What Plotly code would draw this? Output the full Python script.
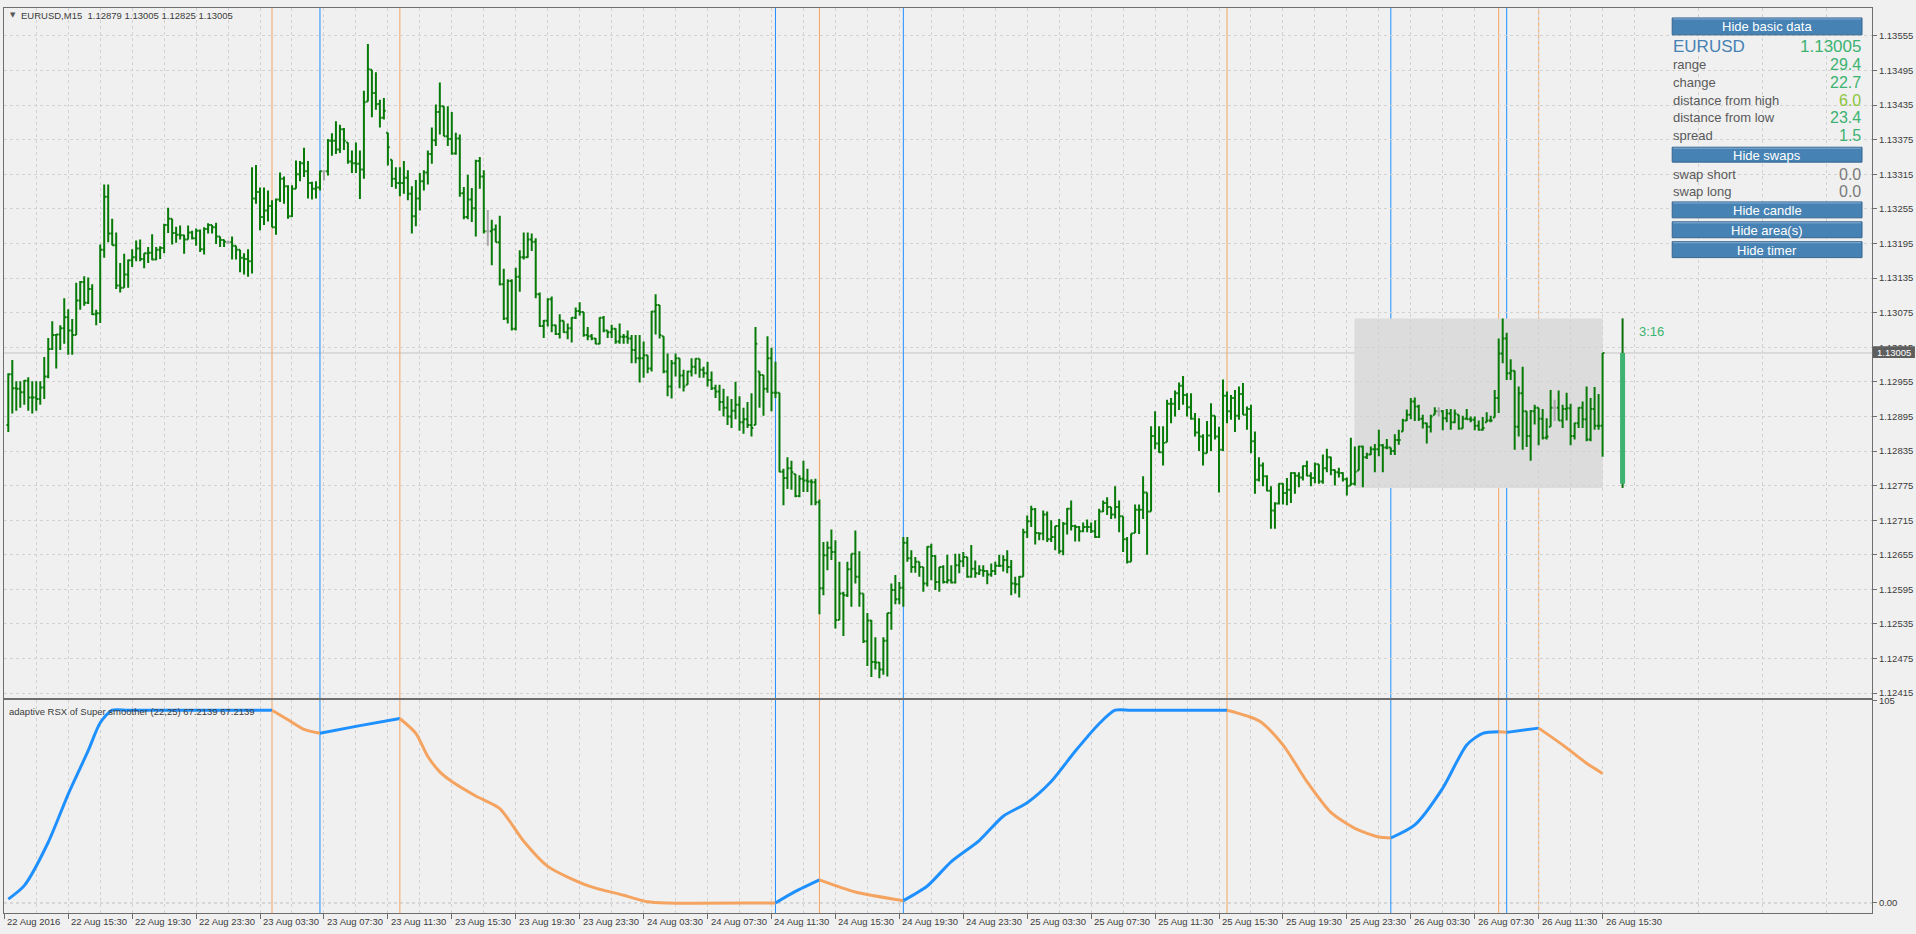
import plotly.graph_objects as go

# ---------------------------------------------------------------- data
title_text = "EURUSD,M15  1.12879 1.13005 1.12825 1.13005"
indicator_title = "adaptive RSX of Super smoother (22,25) 67.2139 67.2139"
BASE = 1.12  # prices below are pips above 1.12000

high_pips = [
    97.0, 99.3, 95.6, 95.6, 95.8, 96.3, 95.6, 95.6, 95.6, 99.8,
    103.1, 106.0, 103.8, 105.3, 110.0, 108.1, 106.4, 112.7, 113.0, 113.8,
    113.6, 112.4, 108.0, 119.3, 129.7, 129.7, 123.8, 121.4, 116.1, 117.7,
    116.7, 118.5, 120.0, 120.2, 117.8, 118.9, 121.1, 118.9, 119.0, 122.9,
    125.7, 123.8, 122.4, 122.6, 121.0, 122.6, 121.7, 122.1, 121.9, 122.3,
    123.0, 122.7, 123.1, 120.7, 120.2, 120.0, 120.7, 119.1, 118.4, 117.8,
    118.5, 132.7, 133.1, 129.2, 129.2, 128.7, 127.0, 127.3, 131.8, 131.1,
    129.6, 129.6, 133.9, 133.8, 136.1, 133.8, 130.2, 130.3, 132.1, 132.1,
    137.6, 138.6, 140.7, 140.1, 139.5, 137.0, 135.6, 137.0, 135.6, 146.0,
    154.1, 149.6, 149.2, 144.4, 144.7, 138.7, 134.0, 132.7, 132.7, 133.8,
    132.2, 129.4, 130.5, 131.7, 132.2, 135.6, 139.6, 143.6, 147.4, 143.3,
    143.3, 142.3, 138.7, 138.4, 129.3, 131.4, 129.1, 134.0, 134.5, 132.2,
    125.3, 123.6, 122.8, 124.3, 115.1, 113.3, 113.3, 115.3, 118.3, 121.4,
    121.4, 121.2, 120.4, 111.0, 106.2, 110.0, 110.3, 105.4, 107.2, 106.1,
    105.6, 106.7, 108.4, 109.3, 107.6, 105.0, 103.8, 103.1, 106.7, 106.9,
    104.4, 105.4, 104.8, 105.6, 103.8, 104.4, 103.6, 103.6, 103.6, 102.5,
    100.1, 107.8, 110.7, 108.8, 103.4, 100.4, 99.3, 100.4, 99.6, 97.6,
    97.4, 99.6, 99.6, 99.5, 98.1, 99.0, 97.3, 95.0, 95.0, 94.3,
    93.0, 92.5, 95.5, 93.0, 91.0, 92.0, 93.5, 105.0, 97.3, 96.7,
    103.4, 101.4, 99.0, 93.6, 80.4, 82.4, 81.8, 79.5, 79.3, 81.8,
    80.4, 78.6, 78.7, 75.1, 67.7, 67.8, 69.9, 68.0, 64.3, 59.1,
    64.3, 65.7, 69.7, 66.1, 58.8, 55.4, 54.2, 51.2, 46.9, 51.2,
    55.4, 60.5, 62.0, 60.8, 68.6, 68.6, 66.3, 65.1, 64.3, 63.4,
    67.0, 67.4, 65.4, 63.4, 63.7, 65.5, 63.7, 65.7, 65.7, 66.0,
    65.1, 67.2, 64.5, 63.7, 63.7, 62.8, 64.0, 64.3, 65.5, 65.4,
    66.3, 64.6, 61.7, 61.8, 70.0, 72.3, 74.0, 73.6, 69.3, 73.2,
    73.0, 71.5, 70.5, 71.7, 71.2, 73.6, 74.9, 70.7, 70.5, 71.1,
    71.6, 71.1, 71.5, 73.5, 74.9, 75.5, 73.8, 77.4, 74.9, 72.2,
    68.6, 69.2, 74.2, 74.2, 79.1, 76.3, 87.8, 90.4, 87.8, 87.8,
    92.4, 92.7, 94.0, 95.4, 96.5, 93.5, 93.5, 90.1, 89.2, 86.4,
    88.7, 91.8, 89.6, 87.7, 95.9, 93.8, 93.2, 94.1, 94.7, 95.3,
    91.2, 91.5, 86.9, 82.4, 81.5, 79.3, 77.4, 74.6, 77.9, 77.9,
    78.8, 79.8, 79.8, 79.8, 81.0, 81.8, 79.8, 81.5, 81.2, 82.9,
    83.9, 82.5, 80.3, 80.6, 79.8, 78.9, 85.8, 84.3, 84.4, 84.4,
    83.2, 84.3, 84.7, 87.2, 84.7, 85.6, 84.1, 86.4, 87.2, 89.1,
    90.7, 92.7, 92.8, 91.5, 89.8, 88.4, 89.8, 91.1, 91.1, 90.6,
    90.8, 90.8, 90.7, 89.8, 89.6, 90.8, 89.5, 89.5, 88.8, 89.4,
    90.2, 89.6, 94.1, 103.0, 106.5, 104.0, 99.4, 97.4, 94.7, 98.1,
    90.4, 90.6, 91.5, 91.0, 90.8, 89.2, 94.1, 92.4, 94.0, 91.5,
    93.6, 91.7, 88.4, 91.1, 92.1, 94.7, 92.7, 94.6, 93.4, 100.5,
]
low_pips = [
    86.8, 90.0, 90.5, 91.0, 91.5, 90.5, 90.0, 90.5, 91.5, 92.5,
    96.1, 101.0, 97.8, 101.0, 102.1, 100.2, 100.2, 103.6, 108.0, 108.7,
    109.0, 107.1, 105.3, 105.7, 117.0, 119.7, 119.2, 111.6, 111.0, 111.8,
    111.8, 115.4, 116.4, 116.4, 115.2, 116.1, 116.6, 116.6, 116.8, 117.8,
    121.3, 119.3, 119.6, 120.2, 117.7, 120.2, 120.2, 119.1, 118.0, 117.6,
    121.2, 121.2, 119.4, 118.9, 118.9, 119.4, 116.7, 116.7, 114.5, 114.1,
    113.7, 114.3, 126.4, 121.8, 122.7, 123.3, 122.3, 121.0, 126.7, 126.4,
    123.8, 124.1, 129.0, 130.3, 131.0, 127.3, 127.1, 127.3, 128.7, 130.4,
    131.3, 134.7, 135.0, 135.2, 135.7, 133.3, 131.7, 131.7, 127.2, 130.7,
    144.1, 141.4, 142.7, 139.6, 141.0, 133.0, 129.3, 129.0, 127.7, 128.1,
    127.0, 121.2, 122.5, 125.2, 128.7, 129.7, 133.3, 136.4, 138.4, 138.1,
    136.4, 134.9, 134.9, 127.6, 123.7, 123.7, 123.2, 120.7, 129.0, 121.2,
    119.1, 115.7, 119.7, 112.2, 106.2, 105.6, 104.4, 104.4, 111.1, 116.7,
    117.0, 118.2, 110.0, 105.0, 103.1, 105.1, 104.1, 103.6, 103.0, 104.0,
    102.9, 102.3, 106.4, 107.0, 103.3, 102.7, 102.7, 102.0, 102.0, 104.1,
    103.1, 103.1, 102.1, 102.1, 102.1, 102.1, 98.7, 98.7, 95.4, 96.2,
    97.0, 97.3, 103.7, 103.0, 97.0, 93.0, 92.6, 96.4, 94.4, 93.8,
    95.0, 96.4, 96.8, 96.2, 96.2, 94.7, 94.1, 92.7, 90.5, 89.5,
    88.0, 87.5, 89.0, 87.0, 86.5, 87.5, 86.0, 88.0, 91.0, 89.6,
    93.6, 90.4, 92.7, 79.8, 74.1, 76.9, 76.8, 75.5, 75.5, 76.4,
    76.4, 74.1, 74.1, 55.2, 58.5, 62.8, 64.6, 52.7, 54.2, 51.4,
    58.2, 56.5, 60.5, 56.5, 50.2, 46.2, 44.3, 45.6, 44.1, 44.7,
    44.4, 52.5, 56.9, 56.9, 56.5, 64.3, 62.4, 62.4, 61.7, 59.1,
    60.0, 61.1, 59.4, 59.1, 60.5, 60.5, 60.5, 60.5, 62.3, 63.4,
    61.5, 61.5, 61.5, 62.0, 61.7, 60.4, 61.7, 62.0, 63.4, 62.6,
    62.3, 58.5, 58.8, 58.1, 61.7, 68.4, 70.3, 67.3, 68.0, 68.0,
    67.7, 67.7, 66.3, 65.7, 65.4, 69.0, 69.7, 67.8, 67.8, 69.4,
    69.4, 69.3, 68.4, 68.4, 72.9, 72.4, 71.7, 71.8, 69.4, 66.0,
    64.0, 64.3, 69.3, 69.1, 71.7, 65.5, 73.0, 83.8, 83.2, 81.0,
    85.0, 88.3, 89.5, 90.6, 91.5, 89.5, 88.9, 86.0, 83.5, 81.0,
    83.1, 83.5, 85.5, 76.3, 83.5, 88.3, 88.9, 86.8, 88.9, 89.8,
    87.2, 83.1, 76.1, 78.2, 77.4, 76.5, 70.0, 70.0, 74.2, 74.2,
    74.1, 74.5, 76.1, 77.2, 78.4, 79.1, 77.4, 77.9, 77.8, 77.8,
    79.8, 79.3, 77.5, 78.9, 78.2, 75.8, 77.5, 77.5, 80.1, 77.2,
    82.1, 82.8, 79.8, 82.6, 79.8, 83.8, 82.8, 82.8, 84.6, 86.9,
    88.7, 89.0, 88.7, 88.7, 87.4, 84.8, 86.7, 89.8, 89.5, 87.1,
    88.5, 87.2, 88.3, 87.2, 87.4, 89.0, 88.5, 87.1, 87.0, 87.0,
    88.5, 88.5, 89.3, 90.1, 98.7, 95.8, 95.8, 83.7, 86.0, 83.7,
    84.2, 81.8, 88.1, 84.5, 85.5, 85.5, 87.7, 88.7, 88.8, 87.5,
    88.8, 84.5, 85.5, 87.5, 87.5, 85.2, 85.2, 87.2, 87.2, 82.5,
]
close_pips = [
    96.8, 94.4, 94.3, 93.7, 95.7, 92.8, 92.8, 92.5, 94.5, 96.4,
    101.2, 103.6, 103.7, 104.8, 106.7, 104.4, 103.6, 109.6, 112.8, 109.2,
    111.6, 107.2, 107.4, 118.4, 127.6, 121.2, 119.2, 112.2, 111.8, 114.1,
    116.6, 117.1, 118.6, 116.8, 117.8, 117.9, 116.7, 118.4, 118.7, 122.7,
    123.8, 121.3, 121.0, 120.9, 120.2, 121.4, 120.4, 121.7, 118.5, 122.0,
    122.7, 122.3, 120.7, 120.1, 119.8, 119.7, 119.1, 118.4, 117.0, 116.8,
    116.4, 127.3, 128.4, 124.1, 125.2, 126.0, 122.3, 127.1, 130.7, 129.4,
    124.2, 129.0, 131.5, 133.4, 132.0, 130.0, 129.0, 129.2, 132.0, 132.0,
    137.3, 137.3, 135.8, 139.3, 137.3, 133.7, 133.4, 133.3, 132.3, 144.0,
    149.7, 145.6, 143.7, 141.3, 142.5, 136.2, 130.7, 130.0, 130.0, 130.9,
    128.1, 124.2, 127.3, 130.3, 131.8, 135.0, 137.4, 142.3, 143.3, 138.1,
    137.6, 135.1, 137.7, 128.2, 124.1, 127.1, 125.6, 133.8, 131.1, 121.6,
    121.6, 121.9, 119.7, 112.4, 106.5, 113.0, 104.7, 113.7, 117.1, 117.1,
    120.2, 119.8, 110.7, 105.2, 106.1, 109.8, 105.3, 103.8, 106.1, 104.1,
    104.8, 106.6, 107.8, 107.6, 103.6, 103.4, 103.0, 102.1, 106.6, 104.4,
    104.1, 104.7, 102.5, 103.3, 103.3, 103.0, 101.0, 99.6, 99.6, 100.1,
    97.8, 107.7, 108.8, 103.6, 97.3, 94.7, 98.7, 99.6, 96.6, 94.7,
    97.3, 98.1, 99.5, 97.6, 97.0, 95.8, 94.4, 93.8, 92.0, 91.0,
    89.5, 90.5, 91.5, 88.5, 89.0, 88.0, 87.5, 102.1, 96.7, 94.3,
    99.6, 93.6, 93.6, 79.9, 78.8, 80.5, 79.8, 75.7, 78.7, 78.4,
    78.2, 78.1, 74.6, 59.7, 65.4, 66.7, 66.0, 54.2, 58.8, 58.5,
    63.0, 65.7, 61.7, 58.8, 50.5, 54.1, 46.9, 46.8, 45.6, 50.6,
    55.4, 59.4, 57.8, 59.8, 67.6, 64.9, 63.4, 64.3, 63.4, 60.5,
    66.9, 65.3, 60.8, 63.4, 60.8, 61.1, 60.7, 63.7, 64.4, 65.1,
    61.7, 63.1, 62.3, 62.8, 62.7, 62.1, 62.7, 63.6, 63.6, 64.6,
    63.4, 60.5, 60.4, 61.7, 69.4, 71.3, 73.4, 69.3, 69.2, 72.5,
    68.2, 68.6, 70.5, 66.1, 70.9, 73.5, 70.5, 70.3, 69.6, 70.3,
    70.3, 69.6, 68.6, 73.0, 74.5, 73.8, 72.5, 73.8, 72.2, 68.2,
    64.3, 69.2, 73.3, 73.3, 76.3, 73.0, 86.1, 84.8, 83.3, 84.9,
    91.7, 91.7, 93.5, 94.8, 93.2, 91.1, 89.1, 86.7, 86.0, 83.1,
    86.2, 89.6, 86.0, 83.7, 93.1, 90.4, 92.7, 89.6, 93.4, 89.8,
    90.8, 85.2, 78.5, 81.0, 79.1, 76.6, 73.2, 74.4, 77.8, 76.2,
    76.8, 79.7, 79.2, 78.9, 80.9, 79.2, 78.8, 81.2, 78.2, 80.5,
    82.4, 80.2, 79.8, 79.7, 78.6, 77.4, 77.8, 79.9, 84.3, 82.4,
    82.9, 83.8, 83.8, 84.5, 84.1, 84.1, 83.5, 85.4, 85.4, 88.8,
    89.8, 92.1, 91.2, 89.1, 88.3, 87.7, 89.5, 90.4, 90.4, 89.2,
    90.0, 88.5, 90.0, 87.4, 89.1, 89.0, 88.9, 87.9, 87.2, 87.5,
    88.8, 88.8, 92.7, 100.4, 103.0, 97.0, 97.4, 87.7, 93.5, 90.4,
    86.1, 90.4, 91.0, 89.1, 85.8, 86.0, 91.0, 91.0, 88.8, 90.8,
    90.9, 86.1, 88.3, 91.0, 89.0, 85.5, 90.8, 87.9, 87.9, 100.5,
]
first_open_pips = 88.0
doji_bars = [55, 79, 120, 358, 387]

# day candle / area of 26 Aug
day_open, day_high, day_low, day_close = 77.8, 106.5, 77.1, 100.5
area_start_bar, area_end_bar = 337, 399
candle_bar = 404
current_price = "1.13005"
timer_text = "3:16"

# axis labels
time_labels = ["22 Aug 2016", "22 Aug 15:30", "22 Aug 19:30", "22 Aug 23:30",
               "23 Aug 03:30", "23 Aug 07:30", "23 Aug 11:30", "23 Aug 15:30",
               "23 Aug 19:30", "23 Aug 23:30", "24 Aug 03:30", "24 Aug 07:30",
               "24 Aug 11:30", "24 Aug 15:30", "24 Aug 19:30", "24 Aug 23:30",
               "25 Aug 03:30", "25 Aug 07:30", "25 Aug 11:30", "25 Aug 15:30",
               "25 Aug 19:30", "25 Aug 23:30", "26 Aug 03:30", "26 Aug 07:30",
               "26 Aug 11:30", "26 Aug 15:30"]
time_label_bars = [-1] + [15 + 16 * k for k in range(25)]
price_ticks = ["1.12415", "1.12475", "1.12535", "1.12595", "1.12655", "1.12715",
               "1.12775", "1.12835", "1.12895", "1.12955", "1.13015", "1.13075",
               "1.13135", "1.13195", "1.13255", "1.13315", "1.13375", "1.13435",
               "1.13495", "1.13555"]

# adaptive RSX key points (bar, value)
rsx_bar = [0, 4, 10, 15, 20, 23, 26, 30, 62, 66, 70, 74, 78, 88, 98, 102, 105, 108,
           111, 117, 123, 129, 135, 145, 154, 160, 165, 188, 192, 197, 203, 212, 224,
           230, 236, 243, 249, 255, 261, 267, 273, 277, 281, 301, 305, 313, 319, 325,
           331, 337, 343, 346, 352, 359, 365, 369, 373, 375, 383, 389, 395, 399]
rsx_val = [2.0, 9.0, 31.5, 56.5, 79.0, 93.5, 100, 100, 100, 100, 95.0, 90.0, 88.0,
           92.0, 95.7, 88.0, 76.0, 68.0, 63.0, 55.5, 49.0, 32.0, 19.0, 9.0, 4.0, 0.6,
           0, 0, 0, 6.0, 12.0, 5.7, 1.2, 8.8, 21.5, 32.4, 45.0, 52.0, 63.0, 78.7,
           93.0, 100, 100, 100, 100, 94.5, 82.0, 63.0, 47.0, 38.7, 34.2, 33.7, 40.5,
           59.6, 82.0, 88.0, 88.8, 88.5, 90.7, 82.0, 72.5, 67.2139]
turn_bars = [0, 66, 78, 98, 192, 203, 224, 305, 346, 373, 375, 383]
turn_dirs = ["up", "down", "up", "down", "up", "down", "up", "down", "up", "down", "up", "down"]

info_labels = ["range", "change", "distance from high", "distance from low", "spread"]
info_values = ["29.4", "22.7", "6.0", "23.4", "1.5"]
swap_labels = ["swap short", "swap long"]
swap_values = ["0.0", "0.0"]
buttons = ["Hide basic data", "Hide swaps", "Hide candle", "Hide area(s)", "Hide timer"]

# ---------------------------------------------------------------- styling
FONT = "Liberation Sans, Arial, sans-serif"
BG = "#F0F0F0"
GRID = "#D2D2D2"
AXC = "#6E6E6E"
TXT = "#3C3C3C"
BAR_GREEN = "#087A08"
ORANGE = "#F4A460"
BLUE = "#1E90FF"
SEA = "#3CB371"
STEEL = "#4682B4"

assert len(high_pips) == len(low_pips) == len(close_pips) == 400

PX0, PX1, PY0, PY1 = 3, 1873, 3, 913


def PX(x):
    return (x - PX0) / (PX1 - PX0)


def PY(y):
    return (PY1 - y) / (PY1 - PY0)


def price(v):
    return BASE + v / 10000.0


n = len(close_pips)
bars = list(range(n))
highs = [price(v) for v in high_pips]
lows = [price(v) for v in low_pips]
closes = [price(v) for v in close_pips]
opens = []
for i in range(n):
    if i in doji_bars:
        o = closes[i]
    elif i == 0:
        o = price(first_open_pips)
    else:
        o = min(max(closes[i - 1], lows[i]), highs[i])
    opens.append(o)

fig = go.Figure()

norm = [i for i in bars if i not in doji_bars]
fig.add_trace(go.Ohlc(
    x=norm, open=[opens[i] for i in norm], high=[highs[i] for i in norm],
    low=[lows[i] for i in norm], close=[closes[i] for i in norm],
    increasing=dict(line=dict(color=BAR_GREEN, width=2)),
    decreasing=dict(line=dict(color=BAR_GREEN, width=2)),
    tickwidth=0.45, xaxis="x2", yaxis="y", hoverinfo="skip"))
fig.add_trace(go.Ohlc(
    x=doji_bars, open=[opens[i] for i in doji_bars], high=[highs[i] for i in doji_bars],
    low=[lows[i] for i in doji_bars], close=[closes[i] for i in doji_bars],
    increasing=dict(line=dict(color="#A8A8A8", width=2)),
    decreasing=dict(line=dict(color="#A8A8A8", width=2)),
    tickwidth=0.45, xaxis="x2", yaxis="y", hoverinfo="skip"))

# day candle on the right: wick + wide body
fig.add_trace(go.Scatter(x=[candle_bar, candle_bar], y=[price(day_low), price(day_high)],
                         mode="lines", line=dict(color="#0A6E0A", width=2),
                         xaxis="x2", yaxis="y", hoverinfo="skip"))
fig.add_trace(go.Scatter(x=[candle_bar, candle_bar], y=[price(day_open), price(day_close)],
                         mode="lines", line=dict(color=SEA, width=5),
                         xaxis="x2", yaxis="y", hoverinfo="skip"))

# RSX indicator, coloured by slope
ends = turn_bars[1:] + [n - 1]
for s, e, d in zip(turn_bars, ends, turn_dirs):
    xs = [b for b in rsx_bar if s <= b <= e]
    vs = [v for b, v in zip(rsx_bar, rsx_val) if s <= b <= e]
    fig.add_trace(go.Scatter(x=xs, y=vs, mode="lines",
                             line=dict(color=BLUE if d == "up" else ORANGE, width=3,
                                       shape="spline", smoothing=0.7),
                             xaxis="x", yaxis="y2", hoverinfo="skip"))

shapes = []
# day area
shapes.append(dict(type="rect", xref="x2", yref="y", x0=area_start_bar - 0.1, x1=area_end_bar,
                   y0=price(day_low), y1=price(day_high), fillcolor="#DCDCDC",
                   line=dict(width=0), layer="below"))
# current price line
shapes.append(dict(type="line", xref="paper", yref="y", x0=0, x1=1,
                   y0=float(current_price), y1=float(current_price),
                   line=dict(color="#C4C4C4", width=1), layer="between"))
# zero level in indicator
shapes.append(dict(type="line", xref="paper", yref="y2", x0=0, x1=1, y0=0, y1=0,
                   line=dict(color="#BEBEBE", width=1, dash="dot"), layer="below"))
# slope-change vertical lines
for s, d in zip(turn_bars[1:], turn_dirs[1:]):
    shapes.append(dict(type="line", xref="x", yref="paper", x0=s, x1=s, y0=0, y1=1,
                       line=dict(color=BLUE if d == "up" else ORANGE, width=1), layer="between"))

# info panel buttons
btn_rows = [(13, 30), (143, 158), (198, 214), (218, 234), (238, 254)]
annotations = []
for txt, (y0, y1) in zip(buttons, btn_rows):
    shapes.append(dict(type="rect", xref="paper", yref="paper", x0=PX(1673), x1=PX(1863),
                       y0=PY(y1), y1=PY(y0), fillcolor=STEEL, line=dict(color="#35648F", width=1),
                       layer="above"))
    shapes.append(dict(type="line", xref="paper", yref="paper", x0=PX(1674), x1=PX(1862),
                       y0=PY(y0 + 1), y1=PY(y0 + 1), line=dict(color="#86AED4", width=1),
                       layer="above"))
    annotations.append(dict(xref="paper", yref="paper", x=PX(1768), y=PY((y0 + y1) / 2 + 0.5),
                            text=txt, showarrow=False, xanchor="center", yanchor="middle",
                            font=dict(family=FONT, size=13, color="white")))

annotations.append(dict(xref="paper", yref="paper", x=PX(1672), y=PY(42), text="EURUSD",
                        showarrow=False, xanchor="left", yanchor="middle",
                        font=dict(family=FONT, size=17, color=STEEL)))
annotations.append(dict(xref="paper", yref="paper", x=PX(1864), y=PY(42), text=current_price,
                        showarrow=False, xanchor="right", yanchor="middle",
                        font=dict(family=FONT, size=17, color=SEA)))
info_y = [60, 78, 96, 113, 131]
val_colors = [SEA, SEA, "#8CC43C", SEA, SEA]
for lab, val, yy, vc in zip(info_labels, info_values, info_y, val_colors):
    annotations.append(dict(xref="paper", yref="paper", x=PX(1672), y=PY(yy), text=lab,
                            showarrow=False, xanchor="left", yanchor="middle",
                            font=dict(family=FONT, size=13, color="#5A5A5A")))
    annotations.append(dict(xref="paper", yref="paper", x=PX(1864), y=PY(yy), text=val,
                            showarrow=False, xanchor="right", yanchor="middle",
                            font=dict(family=FONT, size=16, color=vc)))
for lab, val, yy in zip(swap_labels, swap_values, [170, 188]):
    annotations.append(dict(xref="paper", yref="paper", x=PX(1672), y=PY(yy), text=lab,
                            showarrow=False, xanchor="left", yanchor="middle",
                            font=dict(family=FONT, size=13, color="#5A5A5A")))
    annotations.append(dict(xref="paper", yref="paper", x=PX(1864), y=PY(yy), text=val,
                            showarrow=False, xanchor="right", yanchor="middle",
                            font=dict(family=FONT, size=16, color="#7A7A7A")))

# timer
annotations.append(dict(xref="paper", yref="paper", x=PX(1638), y=PY(328), text=timer_text,
                        showarrow=False, xanchor="left", yanchor="middle",
                        font=dict(family=FONT, size=13, color=SEA)))
# current price label box
shapes.append(dict(type="rect", xref="paper", yref="paper", x0=PX(1874), x1=PX(1916),
                   y0=PY(355), y1=PY(343), fillcolor="#5E5E5E", line=dict(width=0), layer="above"))
annotations.append(dict(xref="paper", yref="paper", x=PX(1895), y=PY(349), text=current_price,
                        showarrow=False, xanchor="center", yanchor="middle",
                        font=dict(family=FONT, size=9.5, color="white")))
# titles
annotations.append(dict(xref="paper", yref="paper", x=PX(7), y=PY(10), text="▼",
                        showarrow=False, xanchor="left", yanchor="middle",
                        font=dict(family="DejaVu Sans", size=7, color="#555555")))
annotations.append(dict(xref="paper", yref="paper", x=PX(18), y=PY(11), text=title_text,
                        showarrow=False, xanchor="left", yanchor="middle",
                        font=dict(family=FONT, size=9.5, color=TXT)))
annotations.append(dict(xref="paper", yref="paper", x=PX(6), y=PY(710), text=indicator_title,
                        showarrow=False, xanchor="left", yanchor="middle",
                        font=dict(family=FONT, size=9.5, color=TXT)))
# time labels (left-aligned to their tick like MT4)
for lab, b in zip(time_labels, time_label_bars):
    annotations.append(dict(xref="x", yref="paper", x=b + 0.25, y=PY(922), text=lab,
                            showarrow=False, xanchor="left", yanchor="middle",
                            font=dict(family=FONT, size=9.5, color=TXT)))

xr = [-1.075, -1.075 + (PX1 - PX0) / 4.0]
# dashed 2-hour grid between the labelled ticks (skipped where a signal line sits)
minor_grid = [g for g in (7 + 16 * k for k in range(30)) if g not in turn_bars]
common_x = dict(range=xr, showgrid=True, gridcolor=GRID, griddash="3px,3px", gridwidth=1,
                tickmode="array", tickvals=time_label_bars, showticklabels=False,
                minor=dict(tickmode="array", tickvals=minor_grid, showgrid=True, gridcolor=GRID,
                           griddash="3px,3px", ticks=""),
                showline=True, mirror=True, linecolor=AXC, linewidth=1, zeroline=False,
                rangeslider=dict(visible=False), fixedrange=True)

price_vals = [float(t) for t in price_ticks]
fig.update_layout(
    width=1916, height=934,
    margin=dict(l=PX0, r=1916 - PX1, t=PY0, b=934 - PY1),
    paper_bgcolor=BG, plot_bgcolor=BG, showlegend=False,
    shapes=shapes, annotations=annotations,
    xaxis=dict(domain=[0, 1], anchor="y2", ticks="outside", ticklen=5, tickcolor=AXC, **common_x),
    xaxis2=dict(domain=[0, 1], anchor="y", matches="x", ticks="", **common_x),
    yaxis=dict(domain=[PY(697), 1], anchor="x2", side="right",
               range=[price(40.63), price(160.33)], tickmode="array", tickvals=price_vals,
               ticktext=price_ticks, ticks="outside", ticklen=4, tickcolor=AXC,
               tickfont=dict(family=FONT, size=9.5, color=TXT),
               showgrid=True, gridcolor=GRID, griddash="3px,3px",
               showline=True, mirror=True, linecolor=AXC, zeroline=False, fixedrange=True),
    yaxis2=dict(domain=[0, PY(699)], anchor="x", side="right", range=[-5.2, 105.2],
                tickmode="array", tickvals=[0, 105], ticktext=["0.00", "105"],
                ticks="outside", ticklen=4, tickcolor=AXC,
                tickfont=dict(family=FONT, size=9.5, color=TXT), showgrid=False,
                showline=True, mirror=True, linecolor=AXC, zeroline=False, fixedrange=True),
)

fig.write_html("out.html", config={"displayModeBar": False},
               post_script="document.body.style.margin='0';"
                           "document.body.style.background='#F0F0F0';")
